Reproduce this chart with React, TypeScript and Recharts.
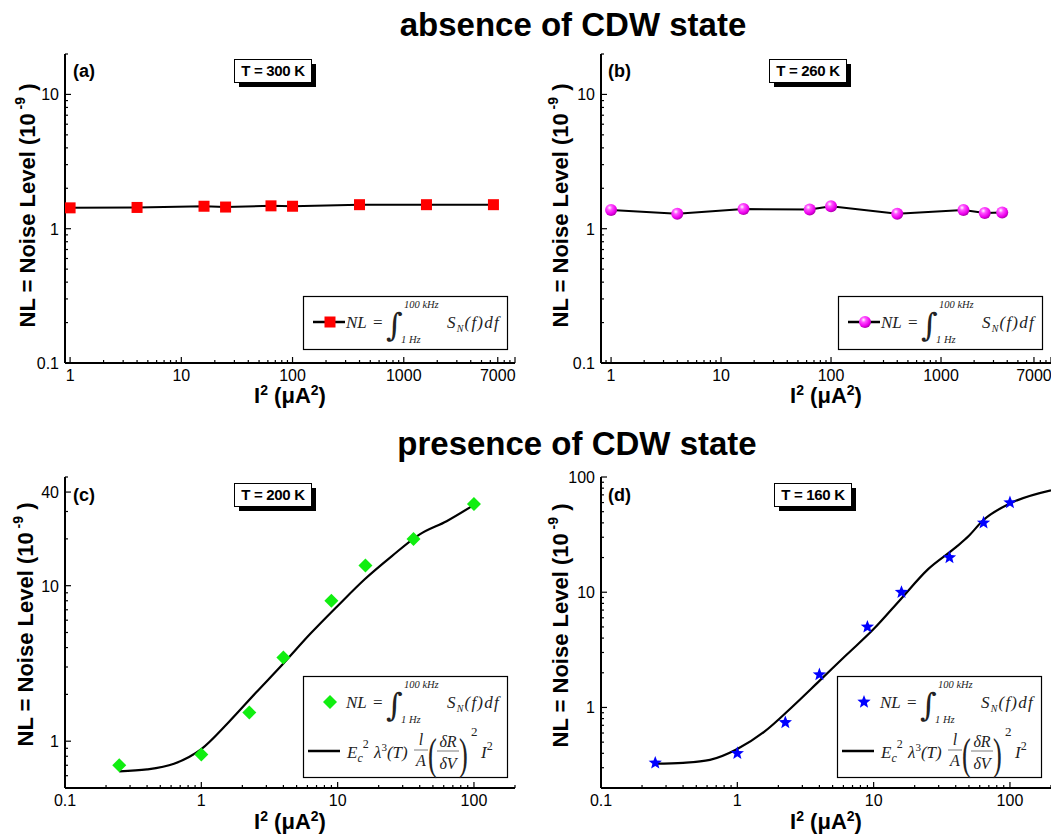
import React from 'react';
import { ComposedChart, Line, Scatter, XAxis, YAxis, Label } from 'recharts';

// ---- values ----
// (a) T = 300 K, no CDW
const iSqA = [1, 4, 16, 25, 64, 100, 400, 1600, 6400];
const nlA = [1.43, 1.44, 1.47, 1.45, 1.48, 1.47, 1.51, 1.51, 1.51];

// (b) T = 260 K, no CDW
const iSqB = [1, 4, 16, 64, 100, 400, 1600, 2500, 3600];
const nlB = [1.38, 1.29, 1.4, 1.39, 1.47, 1.29, 1.38, 1.31, 1.32];

// (c) T = 200 K, CDW present: measured points + fit curve
const iSqC = [0.25, 1, 2.25, 4, 9, 16, 36, 100];
const nlC = [0.7, 0.82, 1.53, 3.45, 8.0, 13.5, 20, 33.5];
const fitXC = [0.25, 0.4, 0.63, 1, 1.58, 2.5, 4, 6.3, 10, 15.8, 25, 40, 63, 100];
const fitYC = [0.64, 0.658, 0.716, 0.89, 1.32, 2.04, 3.16, 4.9, 7.41, 11.0, 15.5, 21.4, 26, 33.1];

// (d) T = 160 K, CDW present
const iSqD = [0.25, 1, 2.25, 4, 9, 16, 36, 64, 100];
const nlD = [0.33, 0.4, 0.74, 1.93, 5.0, 10, 20, 40, 60];
const fitXD = [0.25, 0.4, 0.63, 1, 1.58, 2.5, 4, 6.3, 10, 15.8, 25, 40, 50, 63, 100, 200];
const fitYD = [0.325, 0.331, 0.351, 0.436, 0.617, 1.0, 1.7, 2.85, 4.79, 8.71, 15.8, 24.5, 30.9, 41.7, 58.9, 76.7];

// tick labels
const xLabelsAB = [1, 10, 100, 1000, 7000];
const yLabelsAB = [0.1, 1, 10];
const xLabelsCD = [0.1, 1, 10, 100];
const yLabelsC = [1, 10, 40];
const yLabelsD = [1, 10, 100];

const FONT = "'Liberation Sans', Arial, Helvetica, sans-serif";
const SERIF = "'Liberation Serif', 'Times New Roman', serif";

const rows = (xs: number[], ys: number[]) => xs.map((x, i) => ({ x, y: ys[i] }));

// 1..9 x 10^n between lo and hi (log-axis minor ticks)
const logTicks = (lo: number, hi: number) => {
  const out: number[] = [];
  for (let n = -2; n <= 4; n++) {
    for (let k = 1; k <= 9; k++) {
      const v = k * Math.pow(10, n);
      if (v >= lo * 0.999 && v <= hi * 1.001) out.push(v);
    }
  }
  return out;
};

const same = (a: number, b: number) => Math.abs(a - b) < 1e-6 * Math.max(1, b);

const makeTick = (side: string, labels: number[]) => (p: any) => {
  const { x, y, payload } = p;
  const v = payload.value;
  const lg = Math.log10(v);
  const labelled = labels.some((l) => same(v, l));
  const major = Math.abs(lg - Math.round(lg)) < 1e-6 || labelled;
  const len = major ? 6 : 3;
  const txt = String(Number(v.toPrecision(6)));
  if (side === 'bottom')
    return (
      <g>
        <line x1={x} x2={x} y1={y} y2={y - len} stroke="#000" strokeWidth={1.2} />
        {labelled && (
          <text x={x} y={y + 18} textAnchor="middle" fontSize={16} fontFamily={FONT} fill="#000">
            {txt}
          </text>
        )}
      </g>
    );
  if (side === 'left')
    return (
      <g>
        <line x1={x} x2={x + len} y1={y} y2={y} stroke="#000" strokeWidth={1.2} />
        {labelled && (
          <text x={x - 6} y={y + 6} textAnchor="end" fontSize={16} fontFamily={FONT} fill="#000">
            {txt}
          </text>
        )}
      </g>
    );
  if (side === 'top') return <line x1={x} x2={x} y1={y} y2={y + len} stroke="#555" strokeWidth={1} />;
  return <line x1={x} x2={x - len} y1={y} y2={y} stroke="#555" strokeWidth={1} />;
};

const xTitle = (off: number) => (p: any) => {
  const vb = p.viewBox;
  const cx = vb.x + vb.width / 2;
  const y = vb.y + off;
  return (
    <text x={cx} y={y} textAnchor="middle" fontSize={22} fontWeight="bold" fontFamily={FONT} fill="#000">
      I<tspan fontSize={14} dy={-8}>2</tspan>
      <tspan dy={8}> (μA</tspan>
      <tspan fontSize={14} dy={-8}>2</tspan>
      <tspan dy={8}>)</tspan>
    </text>
  );
};

const yTitle = (gap: number, shift: number) => (p: any) => {
  const vb = p.viewBox;
  const bx = vb.x + vb.width - gap;
  const cy = vb.y + vb.height / 2 + shift;
  return (
    <text
      x={bx}
      y={cy}
      transform={`rotate(-90 ${bx} ${cy})`}
      textAnchor="middle"
      fontSize={22}
      fontWeight="bold"
      fontFamily={FONT}
      fill="#000"
    >
      NL = Noise Level (10
      <tspan fontSize={14} dy={-10}> -9</tspan>
      <tspan dy={10}> )</tspan>
    </text>
  );
};

type Cfg = {
  left: number;
  top: number;
  width: number;
  height: number;
  marginTop: number;
  marginRight: number;
  yAxisWidth: number;
  xAxisHeight: number;
  xDomain: [number, number];
  yDomain: [number, number];
  xLabels: number[];
  yLabels: number[];
  xTitleOff: number;
  yTitleGap: number;
  yTitleShift: number;
};

const axes = (c: Cfg) => {
  const xt = logTicks(c.xDomain[0], c.xDomain[1]);
  const yt = logTicks(c.yDomain[0], c.yDomain[1]);
  const line = { stroke: '#000', strokeWidth: 2 };
  return [
    <XAxis
      key="xb"
      xAxisId={0}
      dataKey="x"
      type="number"
      scale="log"
      domain={c.xDomain}
      allowDataOverflow
      ticks={xt}
      interval={0}
      height={c.xAxisHeight}
      tickSize={0}
      tickMargin={0}
      tickLine={false}
      axisLine={line}
      tick={makeTick('bottom', c.xLabels)}
    >
      <Label content={xTitle(c.xTitleOff)} />
    </XAxis>,
    <XAxis
      key="xt"
      xAxisId="top"
      orientation="top"
      dataKey="x"
      type="number"
      scale="log"
      domain={c.xDomain}
      allowDataOverflow
      ticks={xt}
      interval={0}
      height={0}
      tickSize={0}
      tickMargin={0}
      tickLine={false}
      axisLine={line}
      tick={makeTick('top', [])}
    />,
    <YAxis
      key="yl"
      yAxisId={0}
      type="number"
      scale="log"
      domain={c.yDomain}
      allowDataOverflow
      ticks={yt}
      interval={0}
      width={c.yAxisWidth}
      tickSize={0}
      tickMargin={0}
      tickLine={false}
      axisLine={line}
      tick={makeTick('left', c.yLabels)}
    >
      <Label content={yTitle(c.yTitleGap, c.yTitleShift)} />
    </YAxis>,
    <YAxis
      key="yr"
      yAxisId="right"
      orientation="right"
      type="number"
      scale="log"
      domain={c.yDomain}
      allowDataOverflow
      ticks={yt}
      interval={0}
      width={0}
      tickSize={0}
      tickMargin={0}
      tickLine={false}
      axisLine={line}
      tick={makeTick('right', [])}
    />,
  ];
};

// ---- markers ----
const SquareMark = ({ cx, cy }: any) => <rect x={cx - 5.5} y={cy - 5.5} width={11} height={11} fill="#ff0000" />;
const SphereMark = ({ cx, cy }: any) => <circle cx={cx} cy={cy} r={6} fill="url(#sphere)" />;
const DiamondMark = ({ cx, cy }: any) => (
  <polygon points={`${cx},${cy - 7} ${cx + 7},${cy} ${cx},${cy + 7} ${cx - 7},${cy}`} fill="#11ee11" />
);
const StarMark = ({ cx, cy }: any) => {
  const pts: string[] = [];
  for (let i = 0; i < 10; i++) {
    const r = i % 2 === 0 ? 7 : 3;
    const a = -Math.PI / 2 + (i * Math.PI) / 5;
    pts.push(`${cx + r * Math.cos(a)},${cy + r * Math.sin(a)}`);
  }
  return <polygon points={pts.join(' ')} fill="#0000ff" />;
};

const cfgA: Cfg = {
  left: 0, top: 40, width: 525, height: 380, marginTop: 14, marginRight: 10,
  yAxisWidth: 65, xAxisHeight: 57, xDomain: [0.9, 10000], yDomain: [0.1, 20],
  xLabels: xLabelsAB, yLabels: yLabelsAB, xTitleOff: 40, yTitleGap: 30, yTitleShift: -3,
};
const cfgB: Cfg = { ...cfgA, left: 525, width: 526, marginRight: 0, yAxisWidth: 76, xDomain: [0.81, 10000], yTitleGap: 33 };
const cfgC: Cfg = {
  left: 0, top: 460, width: 525, height: 375, marginTop: 17, marginRight: 10,
  yAxisWidth: 65, xAxisHeight: 47, xDomain: [0.1, 200], yDomain: [0.5, 50],
  xLabels: xLabelsCD, yLabels: yLabelsC, xTitleOff: 41, yTitleGap: 32, yTitleShift: -8,
};
const cfgD: Cfg = { ...cfgC, left: 525, width: 526, marginRight: 0, yAxisWidth: 76, yDomain: [0.2, 100], yLabels: yLabelsD, yTitleGap: 33, yTitleShift: -7 };

function Panel({ c, children }: { c: Cfg; children: React.ReactNode }) {
  return (
    <div style={{ position: 'absolute', left: c.left, top: c.top }}>
      <ComposedChart
        width={c.width}
        height={c.height}
        margin={{ top: c.marginTop, right: c.marginRight, left: 0, bottom: 0 }}
      >
        {axes(c)}
        {children}
      </ComposedChart>
    </div>
  );
}

// ---- legend boxes (formula text) ----
function FormulaLegend({ x, y, mark, withLine, withFit }: any) {
  const h = withFit ? 102 : 54;
  return (
    <g transform={`translate(${x},${y})`}>
      <rect x={0.5} y={0.5} width={204} height={h - 1} fill="#fff" stroke="#000" strokeWidth={1.2} />
      {withLine && <line x1={10} x2={42} y1={26} y2={26} stroke="#000" strokeWidth={2.5} />}
      {mark(27, 26)}
      <g fontFamily={SERIF} fontStyle="italic" fill="#222">
        <text x={43} y={32} fontSize={17}>NL</text>
        <text x={70} y={32} fontSize={17} fontStyle="normal">=</text>
        <text x={83} y={40} fontSize={32} fontStyle="normal" fontFamily="'DejaVu Serif', serif">∫</text>
        <text x={101} y={12} fontSize={10.5}>100 kHz</text>
        <text x={98} y={47} fontSize={10.5}>1 Hz</text>
        <text x={144} y={32} fontSize={17} letterSpacing={1.2}>
          S<tspan fontSize={10} dy={4}>N</tspan>
          <tspan dy={-4}>(f)df</tspan>
        </text>
        {withFit && (
          <g>
            <line x1={5} x2={37} y1={75} y2={75} stroke="#000" strokeWidth={2.5} />
            <text x={44} y={82} fontSize={17}>
              E<tspan fontSize={12} dy={4}>c</tspan>
              <tspan fontSize={12} dy={-14} fontStyle="normal">2</tspan>
            </text>
            <text x={71} y={82} fontSize={17}>
              λ<tspan fontSize={11} dy={-7} fontStyle="normal">3</tspan>
              <tspan dy={7}>(T)</tspan>
            </text>
            <text x={118} y={69} fontSize={16} textAnchor="middle">l</text>
            <line x1={111} x2={125} y1={74} y2={74} stroke="#444" strokeWidth={0.7} />
            <text x={118} y={90} fontSize={16} textAnchor="middle">A</text>
            <text transform="translate(125,93) scale(0.6,1)" fontSize={44} fontStyle="normal">(</text>
            <text x={145} y={71} fontSize={16} textAnchor="middle">δR</text>
            <line x1={134} x2={156} y1={75} y2={75} stroke="#444" strokeWidth={0.7} />
            <text x={145} y={93} fontSize={16} textAnchor="middle">δV</text>
            <text transform="translate(156,93) scale(0.6,1)" fontSize={44} fontStyle="normal">)</text>
            <text x={168} y={60} fontSize={13} fontStyle="normal">2</text>
            <text x={178} y={82} fontSize={17}>
              I<tspan fontSize={12} dy={-8} fontStyle="normal">2</tspan>
            </text>
          </g>
        )}
      </g>
    </g>
  );
}

function TempBox({ x, y, label }: { x: number; y: number; label: string }) {
  return (
    <g>
      <rect x={x + 5} y={y + 5} width={77} height={23} fill="#000" />
      <rect x={x + 0.5} y={y + 0.5} width={77} height={23} fill="#fff" stroke="#000" strokeWidth={1} />
      <text x={x + 39} y={y + 17} textAnchor="middle" fontSize={15} fontWeight="bold" fontFamily={FONT} fill="#000" letterSpacing={-0.3}>
        {label}
      </text>
    </g>
  );
}

function Overlay() {
  const letter = { fontSize: 18, fontWeight: 'bold' as const, fontFamily: FONT, fill: '#000' };
  const title = { fontSize: 33, fontWeight: 'bold' as const, fontFamily: FONT, fill: '#000', textAnchor: 'middle' as const };
  return (
    <svg width={1051} height={835} style={{ position: 'absolute', left: 0, top: 0, pointerEvents: 'none' }}>
      <text x={573} y={36} {...title}>absence of CDW state</text>
      <text x={577} y={455} {...title}>presence of CDW state</text>
      <text x={73} y={77} {...letter}>(a)</text>
      <text x={608} y={77} {...letter}>(b)</text>
      <text x={73} y={501} {...letter}>(c)</text>
      <text x={608} y={501} {...letter}>(d)</text>
      <TempBox x={234} y={59} label="T = 300 K" />
      <TempBox x={769} y={59} label="T = 260 K" />
      <TempBox x={234} y={483} label="T = 200 K" />
      <TempBox x={774} y={483} label="T = 160 K" />
      <FormulaLegend x={303} y={296} withLine mark={(cx: number, cy: number) => <SquareMark cx={cx} cy={cy} />} />
      <FormulaLegend x={838} y={296} withLine mark={(cx: number, cy: number) => <SphereMark cx={cx} cy={cy} />} />
      <FormulaLegend x={303} y={676} withFit mark={(cx: number, cy: number) => <DiamondMark cx={cx} cy={cy} />} />
      <FormulaLegend x={837} y={676} withFit mark={(cx: number, cy: number) => <StarMark cx={cx} cy={cy} />} />
    </svg>
  );
}

export default function App() {
  return (
    <div
      style={{
        position: 'absolute',
        left: 0,
        top: 0,
        width: 1051,
        height: 835,
        overflow: 'hidden',
        background: '#fff',
        fontFamily: FONT,
      }}
    >
      <svg width={0} height={0} style={{ position: 'absolute' }}>
        <defs>
          <radialGradient id="sphere" cx="38%" cy="32%" r="68%">
            <stop offset="0" stopColor="#ffffff" />
            <stop offset="0.3" stopColor="#ff55ff" />
            <stop offset="0.75" stopColor="#ee00ee" />
            <stop offset="1" stopColor="#b000b0" />
          </radialGradient>
        </defs>
      </svg>

      <Panel c={cfgA}>
        <Line
          data={rows(iSqA, nlA)}
          dataKey="y"
          type="linear"
          stroke="#000"
          strokeWidth={2}
          isAnimationActive={false}
          dot={(p: any) => <SquareMark key={`a${p.index}`} cx={p.cx} cy={p.cy} />}
        />
      </Panel>

      <Panel c={cfgB}>
        <Line
          data={rows(iSqB, nlB)}
          dataKey="y"
          type="linear"
          stroke="#000"
          strokeWidth={2}
          isAnimationActive={false}
          dot={(p: any) => <SphereMark key={`b${p.index}`} cx={p.cx} cy={p.cy} />}
        />
      </Panel>

      <Panel c={cfgC}>
        <Line
          data={rows(fitXC, fitYC)}
          dataKey="y"
          type="monotone"
          stroke="#000"
          strokeWidth={2.2}
          dot={false}
          isAnimationActive={false}
        />
        <Scatter
          data={rows(iSqC, nlC)}
          dataKey="y"
          isAnimationActive={false}
          shape={(p: any) => <DiamondMark cx={p.cx} cy={p.cy} />}
        />
      </Panel>

      <Panel c={cfgD}>
        <Line
          data={rows(fitXD, fitYD)}
          dataKey="y"
          type="monotone"
          stroke="#000"
          strokeWidth={2.2}
          dot={false}
          isAnimationActive={false}
        />
        <Scatter
          data={rows(iSqD, nlD)}
          dataKey="y"
          isAnimationActive={false}
          shape={(p: any) => <StarMark cx={p.cx} cy={p.cy} />}
        />
      </Panel>

      <Overlay />
    </div>
  );
}
